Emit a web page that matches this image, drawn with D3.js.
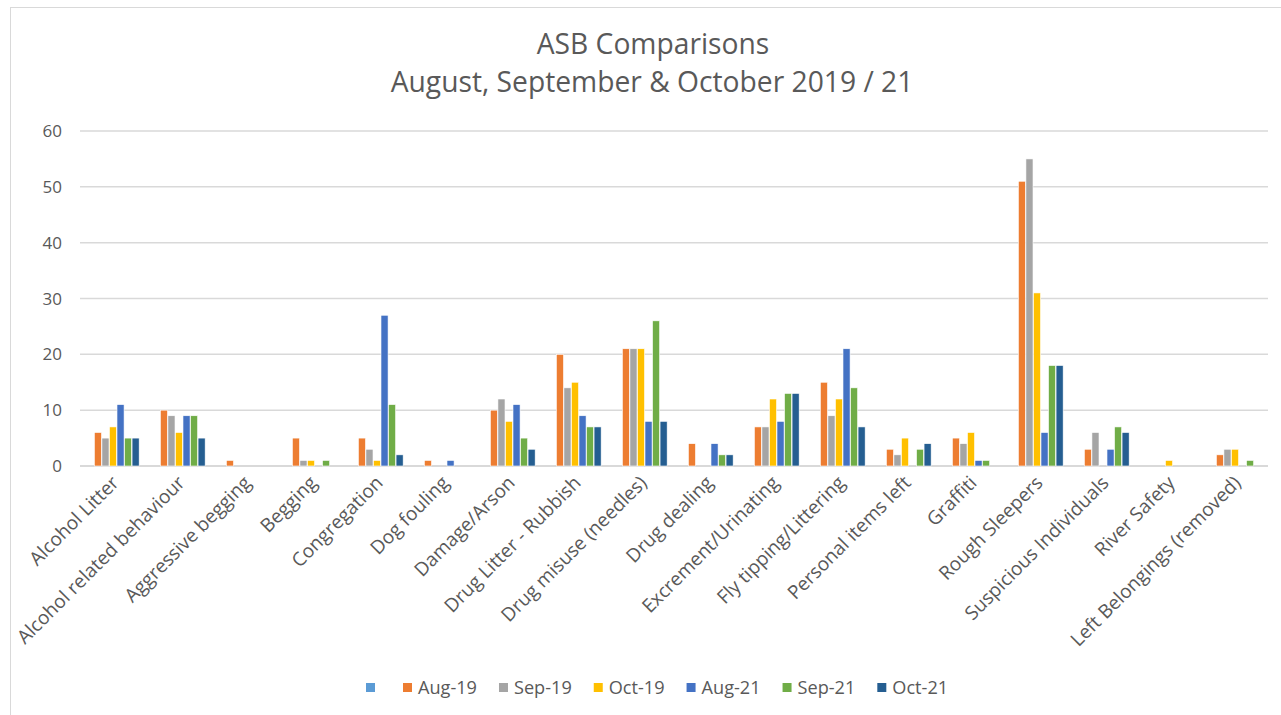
<!DOCTYPE html>
<html>
<head>
<meta charset="utf-8">
<script src="https://cdn.jsdelivr.net/npm/d3@7"></script>
<style>
  body { margin: 0; background: #fff; }
  text { font-family: "Open Sans", "Liberation Sans", sans-serif; fill: #595959; }
</style>
</head>
<body>
<div id="chart"></div>
<script>
const categories = [
  'Alcohol Litter', 'Alcohol related behaviour', 'Aggressive begging', 'Begging',
  'Congregation', 'Dog fouling', 'Damage/Arson', 'Drug Litter - Rubbish',
  'Drug misuse (needles)', 'Drug dealing', 'Excrement/Urinating', 'Fly tipping/Littering',
  'Personal items left', 'Graffiti', 'Rough Sleepers', 'Suspicious Individuals',
  'River Safety', 'Left Belongings (removed)'
];

const seriesNames = ['', 'Aug-19', 'Sep-19', 'Oct-19', 'Aug-21', 'Sep-21', 'Oct-21'];
const seriesColors = ['#5B9BD5', '#ED7D31', '#A5A5A5', '#FFC000', '#4472C4', '#70AD47', '#255E91'];

const blank  = [0, 0, 0, 0, 0, 0, 0, 0, 0, 0, 0, 0, 0, 0, 0, 0, 0, 0];
const aug19  = [6, 10, 1, 5, 5, 1, 10, 20, 21, 4, 7, 15, 3, 5, 51, 3, 0, 2];
const sep19  = [5, 9, 0, 1, 3, 0, 12, 14, 21, 0, 7, 9, 2, 4, 55, 6, 0, 3];
const oct19  = [7, 6, 0, 1, 1, 0, 8, 15, 21, 0, 12, 12, 5, 6, 31, 0, 1, 3];
const aug21  = [11, 9, 0, 0, 27, 1, 11, 9, 8, 4, 8, 21, 0, 1, 6, 3, 0, 0];
const sep21  = [5, 9, 0, 1, 11, 0, 5, 7, 26, 2, 13, 14, 3, 1, 18, 7, 0, 1];
const oct21  = [5, 5, 0, 0, 2, 0, 3, 7, 8, 2, 13, 7, 4, 0, 18, 6, 0, 0];

const yTicks = [0, 10, 20, 30, 40, 50, 60];

const seriesValues = [blank, aug19, sep19, oct19, aug21, sep21, oct21];

const width = 1281, height = 715;
const plot = { left: 80, right: 1268, top: 131, bottom: 466 };

const svg = d3.select('#chart').append('svg')
  .attr('width', width)
  .attr('height', height);

// font size that makes a string a given width (the reference uses Calibri)
function fitSize(str, target) {
  const t = svg.append('text').style('font-size', '20px').text(str);
  const w = t.node().getComputedTextLength();
  t.remove();
  return 20 * target / w;
}

// chart border
svg.append('rect')
  .attr('x', 10.5).attr('y', 7.5)
  .attr('width', width).attr('height', height)
  .attr('fill', 'none')
  .attr('stroke', '#d9d9d9');

// title
const titleSize = fitSize('August, September & October 2019 / 21', 523);
svg.append('text')
  .attr('x', 653).attr('y', 54)
  .attr('text-anchor', 'middle')
  .style('font-size', titleSize + 'px')
  .text('ASB Comparisons');
svg.append('text')
  .attr('x', 652).attr('y', 92)
  .attr('text-anchor', 'middle')
  .style('font-size', titleSize + 'px')
  .text('August, September & October 2019 / 21');

const x0 = d3.scaleBand()
  .domain(categories)
  .range([plot.left, plot.right]);

const x1 = d3.scaleBand()
  .domain(seriesNames.map((d, i) => i))
  .range([6.4, x0.bandwidth() - 6.4])
  .padding(0.06);

const y = d3.scaleLinear()
  .domain([0, 60])
  .range([plot.bottom, plot.top]);

// gridlines
svg.append('g')
  .selectAll('line')
  .data(yTicks)
  .join('line')
  .attr('x1', plot.left).attr('x2', plot.right)
  .attr('y1', d => y(d)).attr('y2', d => y(d))
  .attr('stroke', '#d9d9d9')
  .attr('stroke-width', d => d === 0 ? 2 : 1.5);

// y tick labels
svg.append('g')
  .selectAll('text')
  .data(yTicks)
  .join('text')
  .attr('x', 62)
  .attr('y', d => y(d) + 6)
  .attr('text-anchor', 'end')
  .style('font-size', '17px')
  .text(d => d);

// bars
const rows = categories.map((c, ci) => seriesValues.map((s, si) => ({ cat: c, si, v: s[ci] })));

svg.append('g')
  .selectAll('g')
  .data(rows)
  .join('g')
  .attr('transform', d => `translate(${x0(d[0].cat)},0)`)
  .selectAll('rect')
  .data(d => d.filter(e => e.v > 0))
  .join('rect')
  .attr('x', d => x1(d.si))
  .attr('y', d => y(d.v))
  .attr('width', x1.bandwidth())
  .attr('height', d => y(0) - y(d.v))
  .attr('fill', d => seriesColors[d.si])
  .attr('stroke', '#fff')
  .attr('stroke-width', 0.6);

// category labels
const catSize = fitSize('Alcohol related behaviour', 228);
svg.append('g')
  .selectAll('text')
  .data(categories)
  .join('text')
  .attr('text-anchor', 'end')
  .attr('transform', d => `translate(${x0(d) + x0.bandwidth() / 2 + 7},${plot.bottom + 18}) rotate(-45)`)
  .style('font-size', catSize + 'px')
  .text(d => d);

// legend
const legSize = fitSize('Aug-19', 59);
const legend = svg.append('g');
let lx = 366;
seriesNames.forEach((name, i) => {
  const g = legend.append('g').attr('transform', `translate(${lx},683)`);
  g.append('rect')
    .attr('width', 9).attr('height', 9)
    .attr('fill', seriesColors[i]);
  const t = g.append('text')
    .attr('x', 15).attr('y', 10.5)
    .style('font-size', legSize + 'px')
    .text(name);
  const tw = name ? t.node().getComputedTextLength() : 0;
  lx += name ? 15 + tw + 22 : 37;
});
</script>
</body>
</html>
